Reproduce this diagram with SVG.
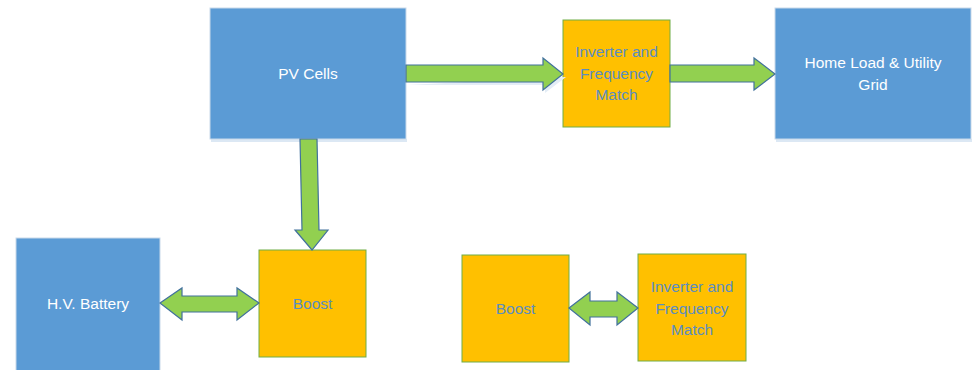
<svg xmlns="http://www.w3.org/2000/svg" width="973" height="370" viewBox="0 0 973 370">
  <style>
    .blue { fill: #5B9BD5; stroke: #C9D9EA; stroke-width: 1; }
    .orange { fill: #FFC000; stroke: #70AD47; stroke-width: 1; }
    .shadow { fill: #DCE8F4; }
    .arrow { fill: #92D050; stroke: #41719C; stroke-width: 1.2; stroke-linejoin: miter; }
    .ashadow { fill: #E4EDF6; }
    .lbl { font-family: "Liberation Sans", Arial, sans-serif; font-size: 15.5px; text-anchor: middle; }
    .w { fill: #FFFFFF; }
    .b { fill: #5B8DC0; }
  </style>

  <g id="pv-cells">
    <rect class="shadow" x="211" y="139" width="196" height="3"/>
    <rect class="blue" x="210" y="8" width="196" height="131"/>
    <text class="lbl w" x="308" y="79">PV Cells</text>
  </g>

  <g id="inverter-top">
    <rect class="orange" x="563" y="20" width="107" height="107"/>
    <text class="lbl b" x="616.5" y="57">Inverter and</text>
    <text class="lbl b" x="616.5" y="79">Frequency</text>
    <text class="lbl b" x="616.5" y="100">Match</text>
  </g>

  <g id="home-load">
    <rect class="shadow" x="776" y="139" width="196" height="3"/>
    <rect class="blue" x="775" y="8" width="196" height="131"/>
    <text class="lbl w" x="873" y="68">Home Load &amp; Utility</text>
    <text class="lbl w" x="873" y="90">Grid</text>
  </g>

  <g id="hv-battery">
    <rect class="blue" x="16" y="238" width="144" height="140"/>
    <text class="lbl w" x="88" y="309">H.V. Battery</text>
  </g>

  <g id="boost-left">
    <rect class="orange" x="259" y="250" width="107" height="107"/>
    <text class="lbl b" x="312.5" y="309">Boost</text>
  </g>

  <g id="boost-right">
    <rect class="orange" x="462" y="255" width="107" height="107"/>
    <text class="lbl b" x="515.5" y="314">Boost</text>
  </g>

  <g id="inverter-bottom">
    <rect class="orange" x="638" y="254" width="108" height="107"/>
    <text class="lbl b" x="692" y="292">Inverter and</text>
    <text class="lbl b" x="692" y="314">Frequency</text>
    <text class="lbl b" x="692" y="335">Match</text>
  </g>

  <g id="connectors">
    <!-- PV Cells to Inverter -->
    <polygon class="ashadow" points="407,85 545,85 545,93 566,77"/>
    <polygon class="arrow" points="406,65 543,65 543,58 563,74 543,90 543,82 406,82"/>
    <!-- Inverter to Home Load -->
    <polygon class="arrow" points="670,65 754,65 754,58 775,74 754,90 754,82 670,82"/>
    <!-- PV Cells down to Boost -->
    <polygon class="arrow" points="300,139 317,139 319,230 328,230 312,250 295,230 302,230"/>
    <!-- Battery <-> Boost -->
    <polygon class="arrow" points="160,303 182,288 182,296 237,296 237,288 259,303 237,320 237,312 182,312 182,320"/>
    <!-- Boost <-> Inverter (lower) -->
    <polygon class="arrow" points="569,308 590,292 590,301 617,301 617,292 638,308 617,325 617,317 590,317 590,325"/>
  </g>
</svg>
